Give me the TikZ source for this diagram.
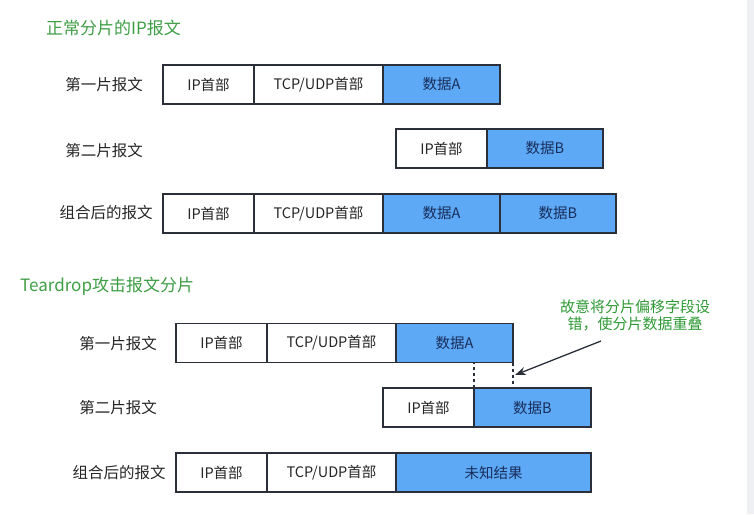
\documentclass[tikz,border=0pt]{standalone}
\usepackage{fontspec}
\setmainfont{Noto Sans CJK SC}
\usetikzlibrary{arrows.meta}
\definecolor{cellblue}{HTML}{5DA9F6}
\definecolor{edge}{HTML}{2A2F3A}
\definecolor{titlegreen}{HTML}{3E9E45}
\definecolor{notegreen}{HTML}{2F9A35}
\definecolor{sidegray}{HTML}{EFF0F3}
\tikzset{
  cell/.style={draw=edge, line width=1.1pt, inner sep=0pt, outer sep=0pt,
    minimum height=39pt, font=\fontsize{14.5}{16}\selectfont, text=black!85},
  hdr/.style={cell, fill=white},
  dat/.style={cell, fill=cellblue, text={rgb,255:red,25;green,45;blue,90}},
  rowlabel/.style={font=\fontsize{15.5}{18}\selectfont, text=black!85},
  title/.style={anchor=west, inner sep=0pt, font=\fontsize{17}{20}\selectfont, text=titlegreen},
  note/.style={align=center, inner sep=0pt, font=\fontsize{15}{17}\selectfont, text=notegreen},
  guide/.style={draw=edge, line width=1.6pt, dash pattern=on 3pt off 3pt},
  pointer/.style={draw=edge, line width=1.3pt, -{Stealth[length=11pt,width=8pt]}}
}
\begin{document}
\begin{tikzpicture}[x=1pt,y=-1pt]
\useasboundingbox (0,0) rectangle (754,514);
\fill[white] (0,0) rectangle (754,514);
\fill[sidegray] (747,0) rectangle (754,514);

% ---------- normal fragmentation ----------
\node[title] (t1) at (46,28) {正常分片的IP报文};

\node[rowlabel] (l11) at (104,85) {第一片报文};
\node[hdr, minimum width=91pt]  (a1ip)  at (208.5,84.5) {IP首部};
\node[hdr, minimum width=129pt] (a1tcp) at (318.5,84.5) {TCP/UDP首部};
\node[dat, minimum width=117pt] (a1da)  at (441.5,84.5) {数据A};

\node[rowlabel] (l12) at (104,151) {第二片报文};
\node[hdr, minimum width=91pt]  (a2ip) at (441.5,148.5) {IP首部};
\node[dat, minimum width=116pt] (a2db) at (545,148.5) {数据B};

\node[rowlabel] (l13) at (106,213) {组合后的报文};
\node[hdr, minimum width=91pt]  (a3ip)  at (208.5,213.5) {IP首部};
\node[hdr, minimum width=129pt] (a3tcp) at (318.5,213.5) {TCP/UDP首部};
\node[dat, minimum width=117pt] (a3da)  at (441.5,213.5) {数据A};
\node[dat, minimum width=116pt] (a3db)  at (558,213.5) {数据B};

% ---------- teardrop ----------
\node[title] (t2) at (20,286) {Teardrop攻击报文分片};

\node[rowlabel] (l21) at (118,344) {第一片报文};
\node[hdr, minimum width=91pt]  (b1ip)  at (221.5,343) {IP首部};
\node[hdr, minimum width=129pt] (b1tcp) at (331.5,343) {TCP/UDP首部};
\node[dat, minimum width=117pt] (b1da)  at (454.5,343) {数据A};

\node[rowlabel] (l22) at (118,408) {第二片报文};
\node[hdr, minimum width=91pt]  (b2ip) at (428.5,407.5) {IP首部};
\node[dat, minimum width=117pt] (b2db) at (532.5,407.5) {数据B};

\node[rowlabel] (l23) at (119,473) {组合后的报文};
\node[hdr, minimum width=91pt]  (b3ip)  at (221.5,472.5) {IP首部};
\node[hdr, minimum width=129pt] (b3tcp) at (331.5,472.5) {TCP/UDP首部};
\node[dat, minimum width=195pt] (b3unk) at (493.5,472.5) {未知结果};

% overlap guides
\draw[guide] (b2db.north west) -- (b2db.north west |- b1da.south);
\draw[guide] (b1da.south east) -- (b1da.south east |- b2db.north);

% annotation
\node[note] (note) at (635,315) {故意将分片偏移字段设\\错，使分片数据重叠};
\coordinate (tip) at (515,375);
\draw[pointer] (601,341) -- (tip);
\end{tikzpicture}
\end{document}
